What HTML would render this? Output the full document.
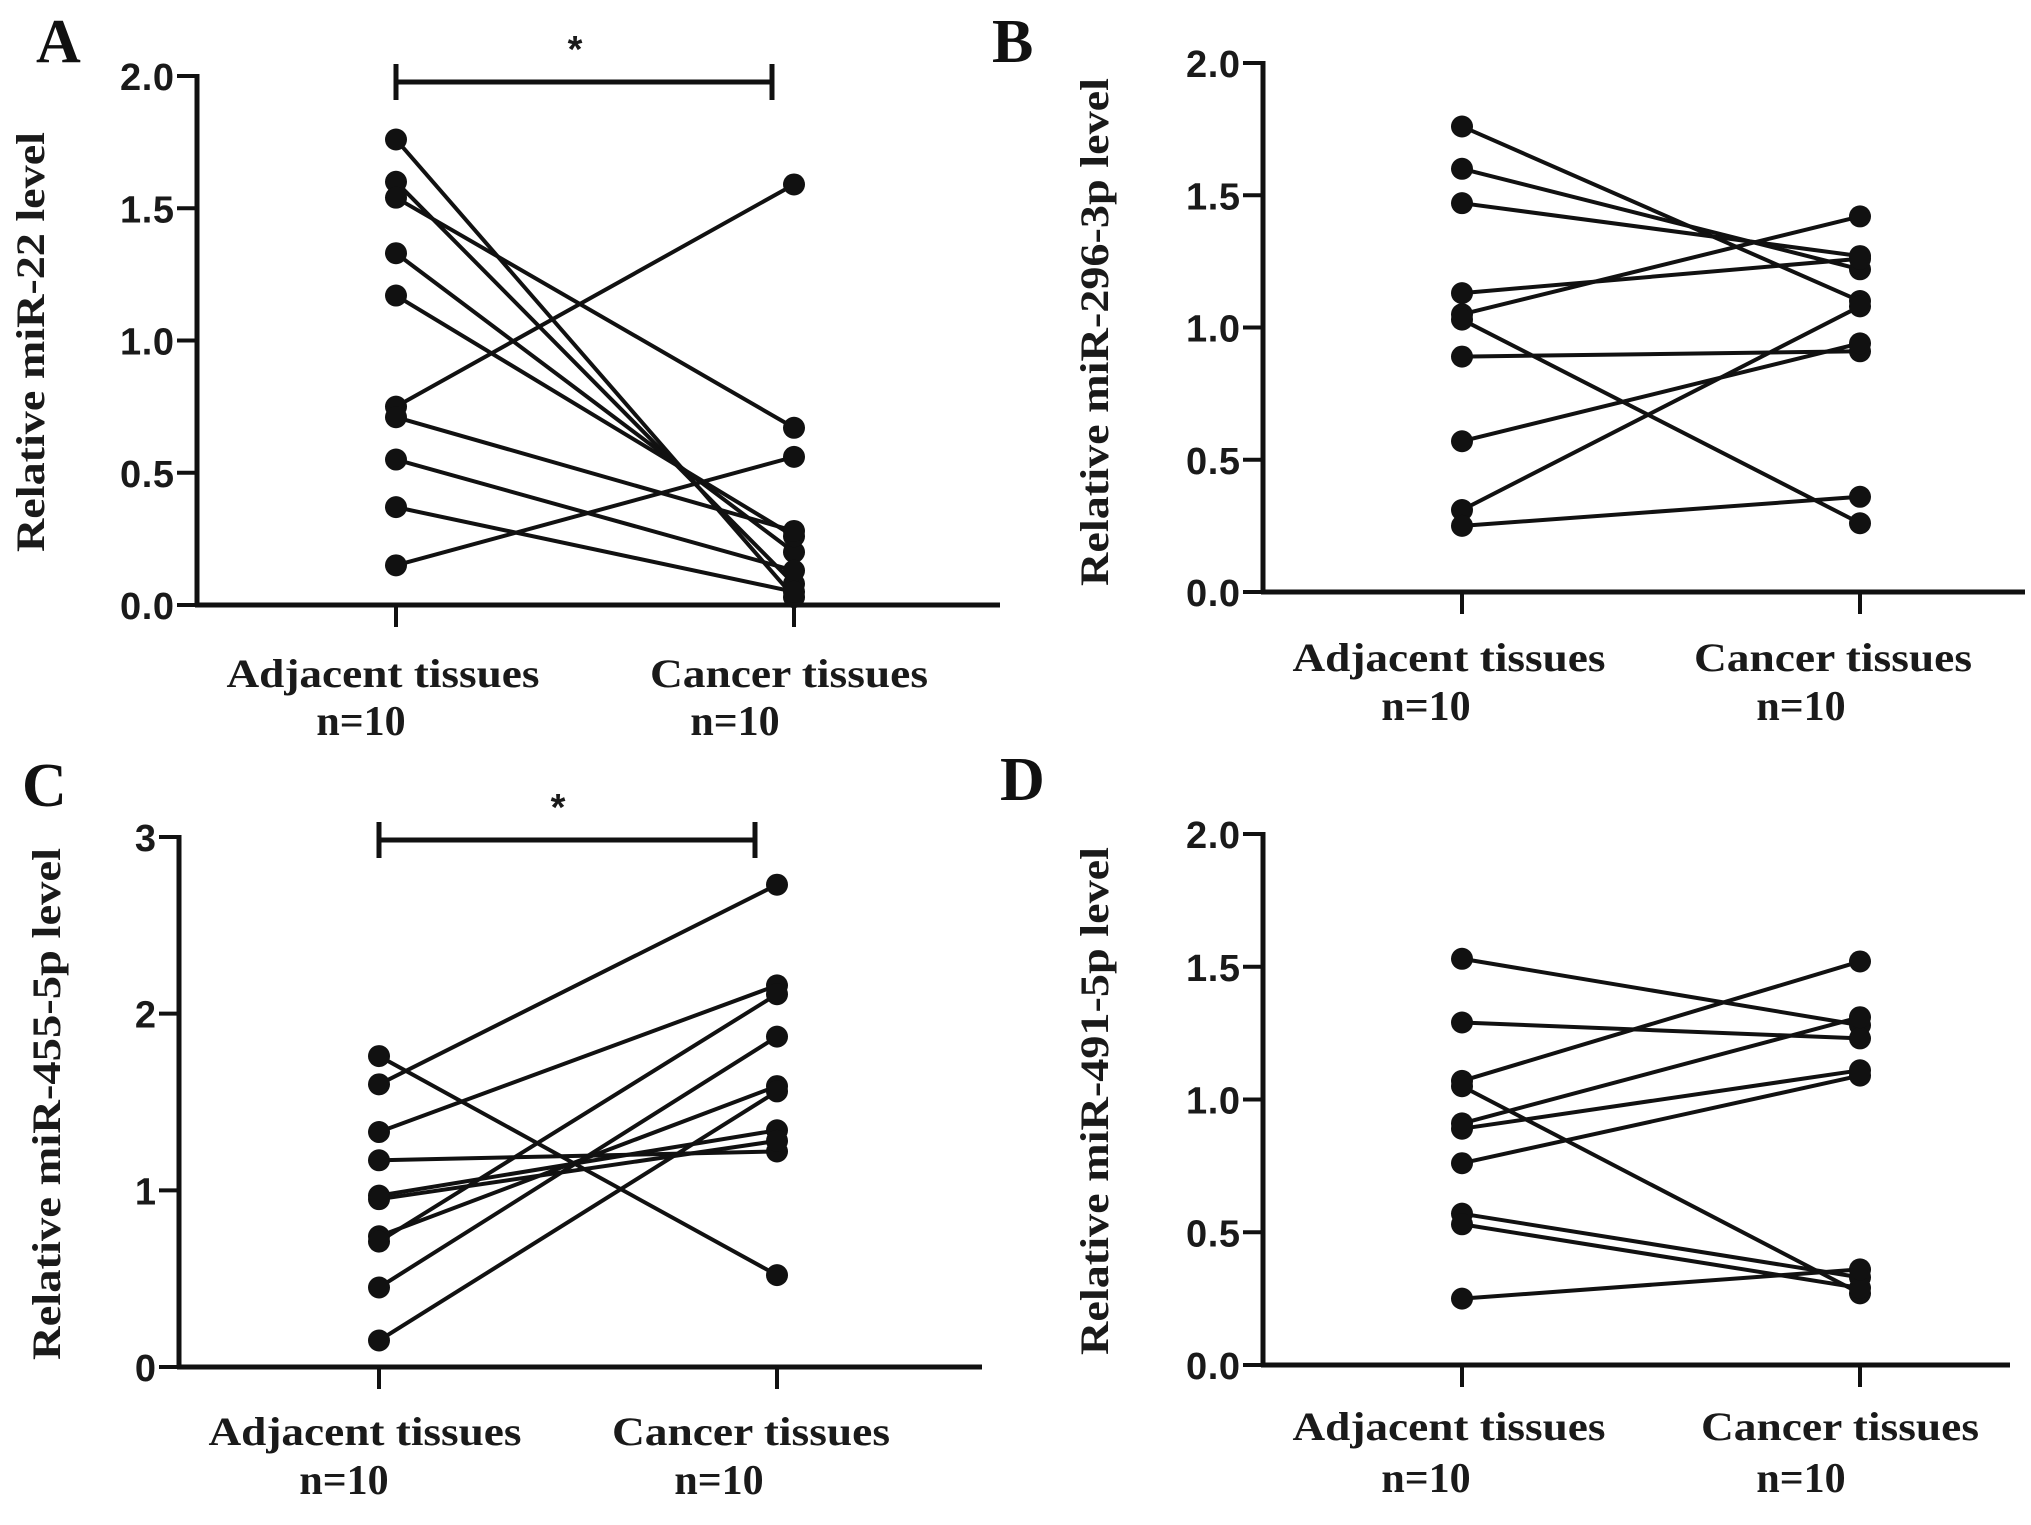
<!DOCTYPE html>
<html><head><meta charset="utf-8"><style>
html,body{margin:0;padding:0;background:#fff;}
svg{display:block;}
.tick{font-family:"Liberation Sans",sans-serif;font-weight:bold;font-size:38px;fill:#1a1a1a;}
.cat{font-family:"Liberation Serif",serif;font-weight:bold;font-size:40px;fill:#1a1a1a;}
.nn{font-family:"Liberation Serif",serif;font-weight:bold;font-size:42px;fill:#1a1a1a;}
.ylab{font-family:"Liberation Serif",serif;font-weight:bold;font-size:40px;fill:#1a1a1a;}
.plab{font-family:"Liberation Serif",serif;font-weight:bold;font-size:62px;fill:#111;}
</style></head><body>
<svg id="fig" width="2031" height="1525" viewBox="0 0 2031 1525" xmlns="http://www.w3.org/2000/svg"></svg>
<script>
// Panel A data
const aAdj = [1.76,1.60,1.54,1.33,1.17,0.75,0.71,0.55,0.37,0.15];
const aCan = [0.03,0.08,0.67,0.20,0.26,1.59,0.28,0.13,0.05,0.56];
const aTicks = ["0.0","0.5","1.0","1.5","2.0"];
const aTickVals = [0,0.5,1,1.5,2];
// Panel B data
const bAdj = [1.76,1.60,1.47,1.13,1.05,1.03,0.89,0.57,0.31,0.25];
const bCan = [1.10,1.22,1.27,1.26,1.42,0.26,0.91,0.94,1.08,0.36];
const bTicks = ["0.0","0.5","1.0","1.5","2.0"];
const bTickVals = [0,0.5,1,1.5,2];
// Panel C data
const cAdj = [1.76,1.60,1.33,1.17,0.97,0.95,0.74,0.71,0.45,0.15];
const cCan = [0.52,2.73,2.16,1.22,1.34,1.28,1.59,2.11,1.87,1.56];
const cTicks = ["0","1","2","3"];
const cTickVals = [0,1,2,3];
// Panel D data
const dAdj = [1.53,1.29,1.07,1.05,0.91,0.89,0.76,0.57,0.53,0.25];
const dCan = [1.28,1.23,1.52,0.27,1.31,1.11,1.09,0.33,0.29,0.36];
const dTicks = ["0.0","0.5","1.0","1.5","2.0"];
const dTickVals = [0,0.5,1,1.5,2];

const NS = "http://www.w3.org/2000/svg";
const svg = document.getElementById("fig");
function mk(tag, attrs, parent){
  const e = document.createElementNS(NS, tag);
  for (const k in attrs) e.setAttribute(k, attrs[k]);
  (parent||svg).appendChild(e);
  return e;
}
function panel(p){
  const g = mk("g", {});
  
  
  const yS = v => p.y0 - (v / p.max) * (p.y0 - p.yTop);
  const pl = mk("text", {x:p.lx, y:p.ly, class:"plab"}, g);
  pl.textContent = p.id;
  
  
  const ya = mk("line", {x1:p.ax, y1:p.yTop-2, x2:p.ax, y2:p.y0+2, stroke:"#111","stroke-width":5}, g);
  
  
  const xa = mk("line", {x1:p.ax-2, y1:p.y0, x2:p.axEnd, y2:p.y0, stroke:"#111","stroke-width":5}, g);
  
  
  p.tickVals.forEach((v,i)=>{
    const y = yS(v);
    const t = mk("line", {x1:p.ax-20, y1:y, x2:p.ax, y2:y, stroke:"#111","stroke-width":4}, g);
    
    
    const tl = mk("text", {x:p.ax-23, y:y+14, "text-anchor":"end", class:"tick"}, g);
    tl.textContent = p.ticks[i];
    if (p.ticks[i].length === 3) tl.setAttribute("textLength", 54);
    
    
  });
  [p.xA, p.xC].forEach(x=>{
    const t = mk("line", {x1:x, y1:p.y0, x2:x, y2:p.y0+22, stroke:"#111","stroke-width":4}, g);
    
    
  });
  const c1 = mk("text", {x:p.c1x, y:p.cy, "text-anchor":"middle", class:"cat", textLength:313, lengthAdjust:"spacingAndGlyphs"}, g);
  c1.textContent = "Adjacent tissues";
  
  
  const n1 = mk("text", {x:p.n1x, y:p.ny, "text-anchor":"middle", class:"nn"}, g);
  n1.textContent = "n=10";
  
  
  const c2 = mk("text", {x:p.c2x, y:p.cy, "text-anchor":"middle", class:"cat", textLength:278, lengthAdjust:"spacingAndGlyphs"}, g);
  c2.textContent = "Cancer tissues";
  
  
  const n2 = mk("text", {x:p.n2x, y:p.ny, "text-anchor":"middle", class:"nn"}, g);
  n2.textContent = "n=10";
  
  
  const yl = mk("text", {x:0, y:0, "text-anchor":"middle", class:"ylab", textLength:p.ylLen, lengthAdjust:"spacingAndGlyphs", transform:`translate(${p.ylx},${p.yly}) rotate(-90)`}, g);
  yl.textContent = p.ylabel;
  
  
  if (p.sig){
    const by = p.sigY;
    const b = mk("path", {d:`M${p.xA} ${by-18} V${by+18} M${p.xA} ${by} H${p.sigEnd} M${p.sigEnd} ${by-18} V${by+18}`, stroke:"#111","stroke-width":5, fill:"none"}, g);
    
    
    const s = mk("text", {x:p.starX, y:by-20, "text-anchor":"middle", class:"tick", "font-size":"34"}, g);
    s.textContent = "*";
    
    
  }
  p.adj.forEach((v,i)=>{
    const l = mk("line", {x1:p.xA, y1:yS(v), x2:p.xC, y2:yS(p.can[i]), stroke:"#111","stroke-width":4}, g);
    
    
  });
  p.adj.forEach((v,i)=>{
    const d1 = mk("circle", {cx:p.xA, cy:yS(v), r:11, fill:"#111"}, g);
    
    
    const d2 = mk("circle", {cx:p.xC, cy:yS(p.can[i]), r:11, fill:"#111"}, g);
    
    
  });
}
panel({id:"A", adj:aAdj, can:aCan, ticks:aTicks, tickVals:aTickVals, max:2,
  ax:197, axEnd:1000, yTop:76, y0:605, xA:396, xC:794, lx:36, ly:62,
  c1x:383, c2x:789, cy:687, n1x:361, n2x:735, ny:735,
  ylabel:"Relative miR-22 level", ylx:44, yly:342, ylLen:420,
  sig:true, sigY:82, sigEnd:772, starX:575});
panel({id:"B", adj:bAdj, can:bCan, ticks:bTicks, tickVals:bTickVals, max:2,
  ax:1263, axEnd:2025, yTop:63, y0:592, xA:1462, xC:1860, lx:992, ly:62,
  c1x:1449, c2x:1833, cy:671, n1x:1426, n2x:1801, ny:720,
  ylabel:"Relative miR-296-3p level", ylx:1108, yly:332, ylLen:508, sig:false});
panel({id:"C", adj:cAdj, can:cCan, ticks:cTicks, tickVals:cTickVals, max:3,
  ax:179, axEnd:982, yTop:837, y0:1367, xA:379, xC:777, lx:22, ly:806,
  c1x:365, c2x:751, cy:1445, n1x:344, n2x:719, ny:1494,
  ylabel:"Relative miR-455-5p level", ylx:60, yly:1104, ylLen:512,
  sig:true, sigY:840, sigEnd:755, starX:558});
panel({id:"D", adj:dAdj, can:dCan, ticks:dTicks, tickVals:dTickVals, max:2,
  ax:1263, axEnd:2010, yTop:834, y0:1365, xA:1462, xC:1860, lx:1000, ly:800,
  c1x:1449, c2x:1840, cy:1440, n1x:1426, n2x:1801, ny:1492,
  ylabel:"Relative miR-491-5p level", ylx:1108, yly:1101, ylLen:508, sig:false});
</script>
</body></html>
